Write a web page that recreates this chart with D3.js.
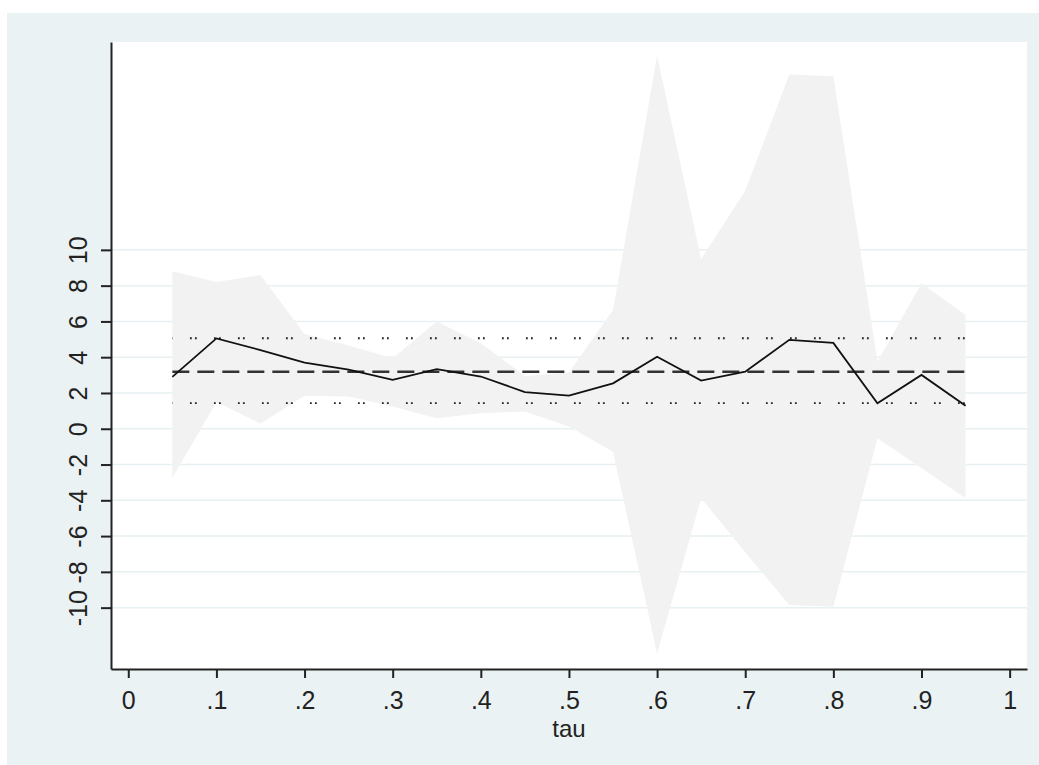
<!DOCTYPE html>
<html>
<head>
<meta charset="utf-8">
<script src="https://cdn.jsdelivr.net/npm/d3@7"></script>
<style>
  html, body { margin: 0; padding: 0; background: #ffffff; }
  svg { display: block; }
  text { font-family: "Liberation Sans", Arial, sans-serif; }
</style>
</head>
<body>
<svg id="chart" width="1039" height="765"></svg>
<script>
// ---- data ----
const tau = [0.05, 0.10, 0.15, 0.20, 0.25, 0.30, 0.35, 0.40, 0.45, 0.50,
             0.55, 0.60, 0.65, 0.70, 0.75, 0.80, 0.85, 0.90, 0.95];
const estimate = [2.9, 5.05, 4.4, 3.7, 3.3, 2.73, 3.33, 2.92, 2.05, 1.85,
                  2.54, 4.03, 2.69, 3.19, 4.97, 4.8, 1.43, 3.01, 1.28];
const upperCI = [8.8, 8.2, 8.6, 5.3, 4.65, 3.94, 6.0, 4.78, 2.95, 3.15,
                 6.64, 20.85, 9.48, 13.3, 19.8, 19.7, 3.75, 8.14, 6.36];
const lowerCI = [-2.75, 1.5, 0.3, 1.85, 1.8, 1.24, 0.59, 0.87, 0.96, 0.12,
                 -1.28, -12.56, -3.89, -6.9, -9.85, -9.95, -0.53, -2.19, -3.89];
const olsEstimate = 3.19;
const olsCI = [1.43, 5.06];
const xTicks = [0, 0.1, 0.2, 0.3, 0.4, 0.5, 0.6, 0.7, 0.8, 0.9, 1];
const xTickLabels = ["0", ".1", ".2", ".3", ".4", ".5", ".6", ".7", ".8", ".9", "1"];
const yTicks = [-10, -8, -6, -4, -2, 0, 2, 4, 6, 8, 10];
const yTickLabels = ["-10", "-8", "-6", "-4", "-2", "0", "2", "4", "6", "8", "10"];
const xTitle = "tau";

// ---- layout ----
const svg = d3.select("#chart");
const plot = { left: 111, right: 1027, top: 42, bottom: 669 };

const x = d3.scaleLinear().domain([-0.0196, 1.0197]).range([plot.left, plot.right]);
const y = d3.scaleLinear().domain([-13.43, 21.62]).range([plot.bottom, plot.top]);

// outer background
svg.append("rect").attr("x", 7).attr("y", 13).attr("width", 1032).attr("height", 752)
  .attr("fill", "#eaf2f3");
// plot region
svg.append("rect").attr("x", plot.left).attr("y", plot.top)
  .attr("width", plot.right - plot.left).attr("height", plot.bottom - plot.top)
  .attr("fill", "#ffffff");

// gridlines
svg.append("g").selectAll("line").data(yTicks).join("line")
  .attr("x1", plot.left).attr("x2", plot.right)
  .attr("y1", d => y(d)).attr("y2", d => y(d))
  .attr("stroke", "#e7f0f2").attr("stroke-width", 1.5);

const rows = tau.map((t, i) => ({ t, est: estimate[i], lo: lowerCI[i], hi: upperCI[i] }));

// confidence band
svg.append("path").datum(rows)
  .attr("d", d3.area().x(d => x(d.t)).y0(d => y(d.lo)).y1(d => y(d.hi)))
  .attr("fill", "#f2f2f2");

// OLS CI dotted lines
const x0 = tau[0], x1 = tau[tau.length - 1];
svg.append("g").selectAll("line").data(olsCI).join("line")
  .attr("x1", x(x0)).attr("x2", x(x1))
  .attr("y1", d => y(d)).attr("y2", d => y(d))
  .attr("stroke", "#222").attr("stroke-width", 1.8)
  .attr("stroke-dasharray", "1.8,3.2,1.8,17.2")
  .attr("stroke-dashoffset", 6.4);

// OLS estimate dashed line
svg.append("line")
  .attr("x1", x(x0)).attr("x2", x(x1))
  .attr("y1", y(olsEstimate)).attr("y2", y(olsEstimate))
  .attr("stroke", "#333").attr("stroke-width", 2.4)
  .attr("stroke-dasharray", "17,8");

// quantile estimate line
svg.append("path").datum(rows)
  .attr("d", d3.line().x(d => x(d.t)).y(d => y(d.est)))
  .attr("fill", "none").attr("stroke", "#111").attr("stroke-width", 1.8);

// axes
const xAxis = svg.append("g").attr("transform", `translate(0,${plot.bottom})`)
  .call(d3.axisBottom(x).tickValues(xTicks).tickFormat((d, i) => xTickLabels[i])
    .tickSizeInner(9).tickSizeOuter(0).tickPadding(13));
xAxis.select(".domain").attr("stroke", "#222").attr("stroke-width", 2);
xAxis.selectAll(".tick line").attr("stroke", "#222").attr("stroke-width", 2);
xAxis.selectAll(".tick text").attr("font-size", 25).attr("fill", "#222")
  .attr("font-family", "'Liberation Sans', Arial, sans-serif");

const yAxis = svg.append("g").attr("transform", `translate(${plot.left},0)`)
  .call(d3.axisLeft(y).tickValues(yTicks).tickFormat((d, i) => yTickLabels[i])
    .tickSizeInner(10).tickSizeOuter(0).tickPadding(8));
yAxis.select(".domain").attr("stroke", "#222").attr("stroke-width", 2);
yAxis.selectAll(".tick line").attr("stroke", "#222").attr("stroke-width", 2);
yAxis.selectAll(".tick text")
  .attr("font-size", 25).attr("fill", "#222")
  .attr("font-family", "'Liberation Sans', Arial, sans-serif")
  .attr("text-anchor", "middle")
  .attr("x", null).attr("dy", null)
  .attr("transform", "translate(-24,0) rotate(-90)")
  .attr("y", 0);

// x title
svg.append("text")
  .attr("x", (plot.left + plot.right) / 2).attr("y", 737)
  .attr("text-anchor", "middle").attr("font-size", 24).attr("fill", "#222")
  .text(xTitle);
</script>
</body>
</html>
